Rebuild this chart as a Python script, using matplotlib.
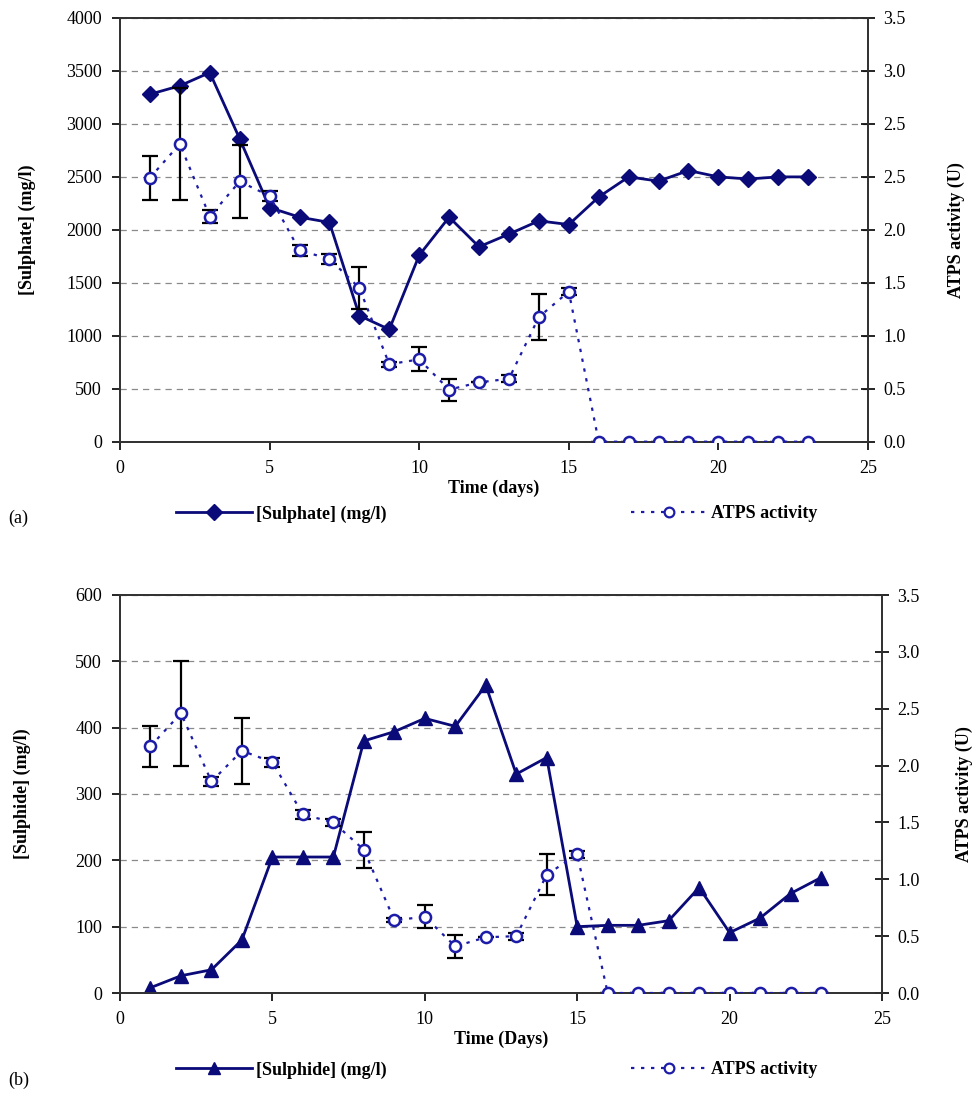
import matplotlib
matplotlib.use("Agg")
import matplotlib.pyplot as plt
from matplotlib.lines import Line2D
import numpy as np

plt.rcParams['font.family'] = ['Liberation Serif', 'DejaVu Serif']
plt.rcParams['font.size'] = 13

# data
days = list(range(1, 24))

sulphate = [3280, 3360, 3485, 2860, 2210, 2120, 2070, 1190, 1060, 1760, 2120, 1840,
            1960, 2085, 2050, 2310, 2500, 2460, 2560, 2500, 2480, 2500, 2500]
atps_a = [2.18, 2.46, 1.86, 2.15, 2.03, 1.58, 1.51, 1.27, 0.64, 0.68, 0.43, 0.49,
          0.52, 1.03, 1.24, 0, 0, 0, 0, 0, 0, 0, 0]
atps_a_err = [0.18, 0.46, 0.05, 0.30, 0.04, 0.045, 0.04, 0.17, 0.02, 0.10, 0.09, 0.0,
              0.03, 0.19, 0.03, 0, 0, 0, 0, 0, 0, 0, 0]

sulphide = [8, 26, 35, 80, 205, 205, 205, 380, 394, 414, 402, 464,
            330, 355, 100, 102, 102, 109, 159, 91, 113, 150, 174]
atps_b = [2.17, 2.46, 1.86, 2.13, 2.03, 1.57, 1.50, 1.26, 0.64, 0.67, 0.41, 0.49,
          0.50, 1.04, 1.22, 0, 0, 0, 0, 0, 0, 0, 0]
atps_b_err = [0.18, 0.46, 0.04, 0.29, 0.04, 0.04, 0.03, 0.16, 0.02, 0.10, 0.10, 0.0,
              0.03, 0.18, 0.03, 0, 0, 0, 0, 0, 0, 0, 0]

right_labels_a = ['0.0', '0.5', '1.0', '1.5', '2.0', '2.5', '2.5', '3.0', '3.5']

navy = '#0a0a78'
circ = '#1c1ca8'

W, H = 977, 1115
fig = plt.figure(figsize=(W / 100, H / 100), dpi=100)


def px(l, t, r, b):
    return [l / W, 1 - b / H, (r - l) / W, (b - t) / H]


def panel(rect, y, ymax, ystep, marker, atps, err, ylabel, xlabel, rticks, rlabels, lpad, rpad):
    ax = fig.add_axes(rect)
    ax.set_xlim(0, 25)
    ax.set_xticks(range(0, 26, 5))
    ax.set_ylim(0, ymax)
    ax.set_yticks(np.arange(0, ymax + 1, ystep))
    ax.yaxis.grid(True, linestyle=(0, (5, 4)), color='#8a8a8a', lw=0.9)
    ax.set_axisbelow(True)
    ax.tick_params(direction='out', length=6, width=1.2, labelsize=13, pad=7)
    for s in ax.spines.values():
        s.set_linewidth(1.3)
        s.set_color('#333333')
    ax.set_ylabel(ylabel, fontweight='bold', fontsize=13, labelpad=lpad)
    ax.set_xlabel(xlabel, fontweight='bold', fontsize=13, labelpad=2)
    # concentration line
    ax.plot(days, y, '-', color=navy, lw=2, marker=marker, ms=8.5 if marker == 'D' else 10,
            mfc=navy, mec=navy, zorder=4)

    ax2 = ax.twinx()
    ax2.set_ylim(0, 3.5)
    ax2.set_yticks(rticks)
    ax2.set_yticklabels(rlabels)
    ax2.tick_params(direction='inout', length=10, width=1.2, labelsize=13, pad=6)
    ax2.set_ylabel('ATPS activity (U)', fontweight='bold', fontsize=13, labelpad=rpad)
    for s in ax2.spines.values():
        s.set_linewidth(1.3)
        s.set_color('#333333')

    ax2.errorbar(days, atps, yerr=err, fmt='none', ecolor='black', elinewidth=1.6,
                 capsize=6, capthick=1.6, zorder=2)
    ax2.plot(days, atps, linestyle=(0, (1.5, 3)), color=circ, lw=1.6, marker='o',
             ms=8, mfc='white', mec=circ, mew=1.8, zorder=3)
    return ax, ax2


panel(px(120, 18, 868, 441.7), sulphate, 4000, 500, 'D', atps_a, atps_a_err,
      '[Sulphate] (mg/l)', 'Time (days)', np.linspace(0, 3.5, 9), right_labels_a, 22, 30)
panel(px(120, 595, 882, 993), sulphide, 600, 100, '^', atps_b, atps_b_err,
      '[Sulphide] (mg/l)', 'Time (Days)', np.arange(0, 3.51, 0.5),
      ['%.1f' % v for v in np.arange(0, 3.51, 0.5)], 32, 26)


# legends
def legend(label, handle, x, y):
    fig.legend([handle], [label], loc='center left', bbox_to_anchor=(x / W, 1 - y / H),
               frameon=False, handlelength=4.2, handletextpad=0.2,
               prop={'weight': 'bold', 'size': 13})


legend('[Sulphate] (mg/l)', Line2D([], [], color=navy, lw=2, marker='D', ms=8, mfc=navy), 160, 514)
legend('ATPS activity', Line2D([], [], color=circ, lw=1.6, linestyle=(0, (1.5, 3)), marker='o',
                                ms=7, mfc='white', mec=circ, mew=1.6), 615, 514)
legend('[Sulphide] (mg/l)', Line2D([], [], color=navy, lw=2, marker='^', ms=9, mfc=navy), 160, 1070)
legend('ATPS activity', Line2D([], [], color=circ, lw=1.6, linestyle=(0, (1.5, 3)), marker='o',
                                ms=7, mfc='white', mec=circ, mew=1.6), 615, 1070)

fig.text(8 / W, 1 - 518 / H, '(a)', fontsize=13, va='center')
fig.text(8 / W, 1 - 1080 / H, '(b)', fontsize=13, va='center')

fig.savefig('out.png', dpi=100)
